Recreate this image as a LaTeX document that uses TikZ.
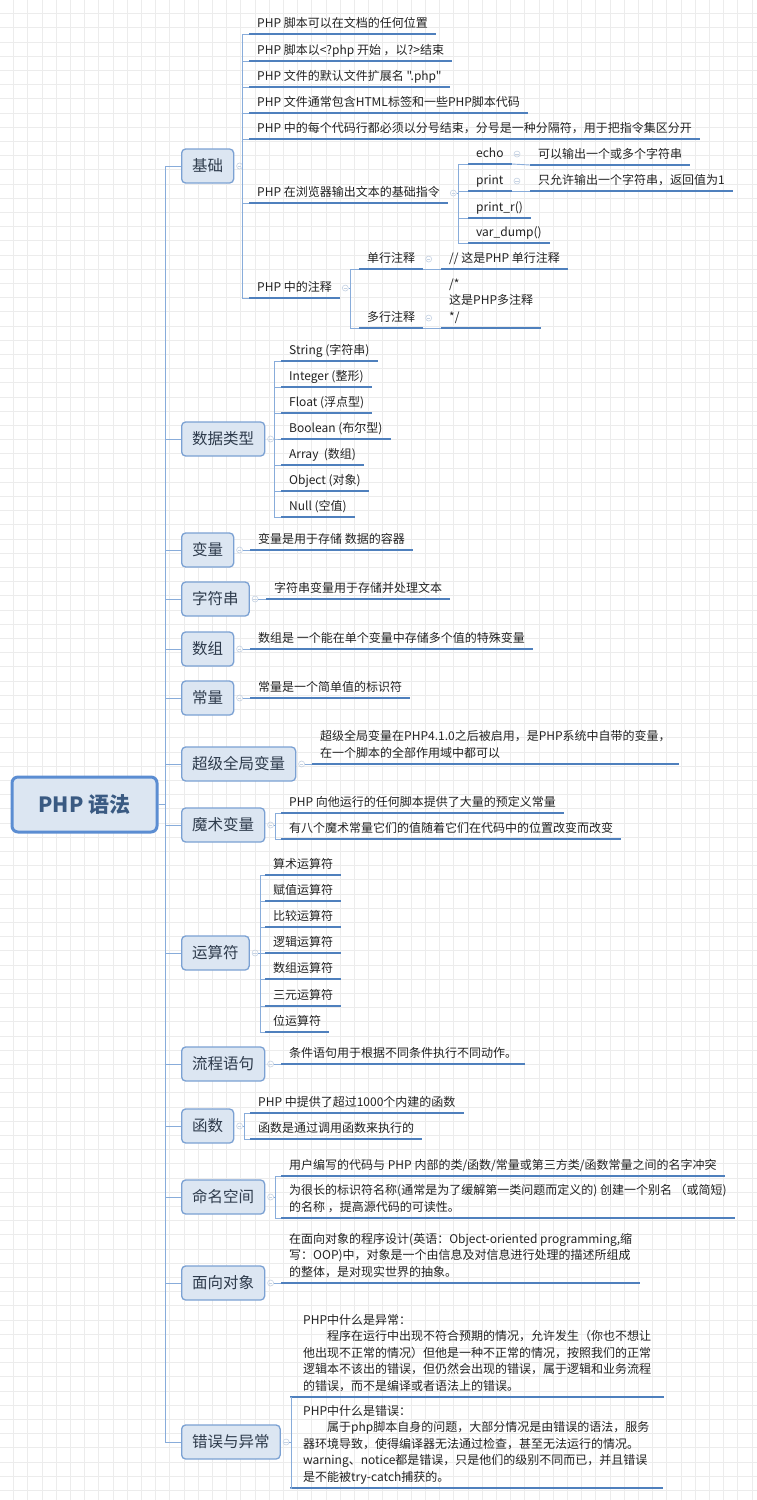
\documentclass[tikz,border=0pt]{standalone}
\usepackage{fontspec}
\setmainfont{Noto Sans CJK SC}[Ligatures=TeXOff]
\usetikzlibrary{positioning}

\definecolor{boxfill}{HTML}{DCE6F2}
\definecolor{boxline}{HTML}{7BA1D3}
\definecolor{rootline}{HTML}{5B8DD2}
\definecolor{roottext}{HTML}{3A5A82}
\definecolor{topictext}{HTML}{2E3B4C}
\definecolor{leaftext}{HTML}{222222}
\definecolor{ulblue}{HTML}{4F80BD}
\definecolor{connblue}{HTML}{88ACDA}
\definecolor{indgray}{HTML}{C5D2E3}
\definecolor{gridgray}{HTML}{ECECEC}

\tikzset{
  topic/.style={draw=boxline, fill=boxfill, line width=1.3pt, rounded corners=4pt,
    anchor=west, minimum height=34pt, inner xsep=10.5pt, text=topictext,
    font=\fontsize{15.5}{18}\selectfont},
  uline/.style={draw=ulblue, line width=2.4pt},
  leaf/.style={anchor=south west, align=left, inner xsep=8pt, inner ysep=1.5pt,
    text=leaftext, font=\fontsize{12}{16.5}\selectfont, execute at end node=\strut,
    append after command={(\tikzlastnode.south west) edge[uline] (\tikzlastnode.south east)}},
  conn/.style={draw=connblue, line width=0.9pt},
  ind/.style={circle, draw=indgray, line width=0.6pt, inner sep=0pt, minimum size=6pt,
    path picture={\draw[indgray, line width=0.6pt]
      ([xshift=-1.7pt]path picture bounding box.center) -- ([xshift=1.7pt]path picture bounding box.center);}},
}

\begin{document}
\begin{tikzpicture}[x=1pt, y=-1pt]
  \useasboundingbox (0,0) rectangle (757,1500);
  \fill[white] (0,0) rectangle (757,1500);
  % background grid
  \foreach \g in {13.5,27.7,...,757} \draw[gridgray, line width=0.6pt] (\g,0) -- (\g,1500);
  \foreach \g in {13.5,27.7,...,1500} \draw[gridgray, line width=0.6pt] (0,\g) -- (757,\g);

  % root
  \node[draw=rootline, fill=boxfill, line width=3pt, rounded corners=6pt, minimum width=145pt,
    minimum height=55pt, text=roottext, font=\fontsize{21}{24}\selectfont\bfseries]
    (root) at (84.5,804.5) {PHP 语法};

  % main topics
  \node[topic] (jc) at (181,166) {基础};
  \node[topic] (sj) at (181,439) {数据类型};
  \node[topic] (bl) at (181,550) {变量};
  \node[topic] (zf) at (181,599) {字符串};
  \node[topic] (sz) at (181,649) {数组};
  \node[topic] (cl) at (181,698) {常量};
  \node[topic] (cj) at (181,764) {超级全局变量};
  \node[topic] (ms) at (181,825) {魔术变量};
  \node[topic] (ys) at (181,953) {运算符};
  \node[topic] (lc) at (181,1064) {流程语句};
  \node[topic] (hs) at (181,1126) {函数};
  \node[topic] (mm) at (181,1197) {命名空间};
  \node[topic] (mx) at (181,1283) {面向对象};
  \node[topic] (cw) at (181,1442) {错误与异常};
  \foreach \t in {jc,sj,bl,zf,sz,cl,cj,ms,ys,lc,hs,mm,mx,cw} {
    \node[ind, right=2pt of \t] (\t-i) {};
    \draw[conn] (root.east) -- ++(7,0) |- (\t.west);
  }

  % 基础
  \node[leaf] (jc1) at (249,34) {PHP 脚本可以在文档的任何位置};
  \node[leaf] (jc2) at (249,61) {PHP 脚本以<?php 开始 ，以?>结束};
  \node[leaf] (jc3) at (249,87) {PHP 文件的默认文件扩展名 ".php"};
  \node[leaf] (jc4) at (249,113) {PHP 文件通常包含HTML标签和一些PHP脚本代码};
  \node[leaf] (jc5) at (249,139) {PHP 中的每个代码行都必须以分号结束，分号是一种分隔符，用于把指令集区分开};
  \node[leaf] (jc6) at (249,203) {PHP 在浏览器输出文本的基础指令};
  \node[leaf] (jc7) at (249,298) {PHP 中的注释};
  \foreach \c in {jc1,jc2,jc3,jc4,jc5,jc6,jc7} \draw[conn] (jc-i.east) |- (\c.south west);

  \node[ind, right=2pt of jc6] (jc6-i) {};
  \node[leaf] (echo) at (468,164) {echo};
  \node[leaf] (prt) at (468,191) {print};
  \node[leaf] (prtr) at (468,218) {print\_r()};
  \node[leaf] (vd) at (468,243) {var\_dump()};
  \foreach \c in {echo,prt,prtr,vd} \draw[conn] (jc6-i.east) -- ++(2,0) |- (\c.south west);
  \node[ind, right=2pt of echo] (echo-i) {};
  \node[ind, right=2pt of prt] (prt-i) {};
  \node[leaf] (echo1) at (530,165) {可以输出一个或多个字符串};
  \node[leaf] (prt1) at (530,191) {只允许输出一个字符串，返回值为1};
  \draw[conn] (echo.south east) -- (echo1.south west);
  \draw[conn] (prt.south east) -- (prt1.south west);

  \node[ind, right=2pt of jc7] (jc7-i) {};
  \node[leaf] (dh) at (359,269) {单行注释};
  \node[leaf] (dz) at (359,328) {多行注释};
  \foreach \c in {dh,dz} \draw[conn] (jc7-i.east) -- ++(2,0) |- (\c.south west);
  \node[ind, right=2pt of dh] (dh-i) {};
  \node[ind, right=2pt of dz] (dz-i) {};
  \node[leaf] (dh1) at (441,269) {// 这是PHP 单行注释};
  \node[leaf] (dz1) at (441,328) {/*\\这是PHP多注释\\*/};
  \draw[conn] (dh.south east) -- (dh1.south west);
  \draw[conn] (dz.south east) -- (dz1.south west);

  % 数据类型
  \node[leaf] (sj1) at (281,361) {String (字符串)};
  \node[leaf] (sj2) at (281,387) {Integer (整形)};
  \node[leaf] (sj3) at (281,413) {Float (浮点型)};
  \node[leaf] (sj4) at (281,439) {Boolean (布尔型)};
  \node[leaf] (sj5) at (281,465) {Array \ (数组)};
  \node[leaf] (sj6) at (281,491) {Object (对象)};
  \node[leaf] (sj7) at (281,517) {Null (空值)};
  \foreach \c in {sj1,sj2,sj3,sj4,sj5,sj6,sj7} \draw[conn] (sj-i.east) -- ++(1,0) |- (\c.south west);

  % one-line topics
  \node[leaf] (bl1) at (250,550) {变量是用于存储 数据的容器};
  \node[leaf] (zf1) at (266,599) {字符串变量用于存储并处理文本};
  \node[leaf] (sz1) at (250,649) {数组是 一个能在单个变量中存储多个值的特殊变量};
  \node[leaf] (cl1) at (250,698) {常量是一个简单值的标识符};
  \node[leaf] (cj1) at (312,764) {超级全局变量在PHP4.1.0之后被启用，是PHP系统中自带的变量，\\在一个脚本的全部作用域中都可以};
  \node[leaf] (lc1) at (281,1064) {条件语句用于根据不同条件执行不同动作。};
  \node[leaf] (mx1) at (281,1283) {在面向对象的程序设计(英语：Object-oriented programming,缩\\写：OOP)中，对象是一个由信息及对信息进行处理的描述所组成\\的整体，是对现实世界的抽象。};
  \foreach \t in {bl,zf,sz,cl,cj,lc,mx} \draw[conn] (\t-i.east) -- (\t1.south west);

  % 魔术变量
  \node[leaf] (ms1) at (281,813) {PHP 向他运行的任何脚本提供了大量的预定义常量};
  \node[leaf] (ms2) at (281,839) {有八个魔术常量它们的值随着它们在代码中的位置改变而改变};
  \foreach \c in {ms1,ms2} \draw[conn] (ms-i.east) -- ++(2,0) |- (\c.south west);

  % 运算符
  \node[leaf] (ys1) at (265,875) {算术运算符};
  \node[leaf] (ys2) at (265,901) {赋值运算符};
  \node[leaf] (ys3) at (265,927) {比较运算符};
  \node[leaf] (ys4) at (265,953) {逻辑运算符};
  \node[leaf] (ys5) at (265,979) {数组运算符};
  \node[leaf] (ys6) at (265,1006) {三元运算符};
  \node[leaf] (ys7) at (265,1032) {位运算符};
  \foreach \c in {ys1,ys2,ys3,ys4,ys5,ys6,ys7} \draw[conn] (ys-i.east) -- ++(2,0) |- (\c.south west);

  % 函数
  \node[leaf] (hs1) at (250,1113) {PHP 中提供了超过1000个内建的函数};
  \node[leaf] (hs2) at (250,1139) {函数是通过调用函数来执行的};
  \foreach \c in {hs1,hs2} \draw[conn] (hs-i.east) -- ++(2,0) |- (\c.south west);

  % 命名空间
  \node[leaf] (mm1) at (281,1176) {用户编写的代码与 PHP 内部的类/函数/常量或第三方类/函数常量之间的名字冲突};
  \node[leaf] (mm2) at (281,1218) {为很长的标识符名称(通常是为了缓解第一类问题而定义的) 创建一个别名 （或简短)\\的名称 ，提高源代码的可读性。};
  \foreach \c in {mm1,mm2} \draw[conn] (mm-i.east) -- ++(2,0) |- (\c.south west);

  % 错误与异常
  \node[leaf, inner xsep=13pt] (cw1) at (290,1397) {PHP中什么是异常：\\　　程序在运行中出现不符合预期的情况，允许发生（你也不想让\\他出现不正常的情况）但他是一种不正常的情况，按照我们的正常\\逻辑本不该出的错误，但仍然会出现的错误，属于逻辑和业务流程\\的错误，而不是编译或者语法上的错误。};
  \node[leaf, inner xsep=13pt] (cw2) at (290,1488) {PHP中什么是错误：\\　　属于php脚本自身的问题，大部分情况是由错误的语法，服务\\器环境导致，使得编译器无法通过检查，甚至无法运行的情况。\\warning、notice都是错误，只是他们的级别不同而已，并且错误\\是不能被try-catch捕获的。};
  \foreach \c in {cw1,cw2} \draw[conn] (cw-i.east) -- ++(2,0) |- (\c.south west);
\end{tikzpicture}
\end{document}
